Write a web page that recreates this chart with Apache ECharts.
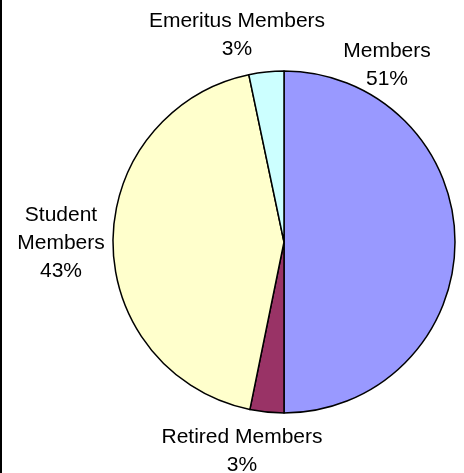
<!DOCTYPE html>
<html>
<head>
<meta charset="utf-8">
<script src="https://cdn.jsdelivr.net/npm/echarts@6/dist/echarts.min.js"></script>
<style>
html,body{margin:0;padding:0;background:#fff;}
#c{width:464px;height:473px;}
</style>
</head>
<body>
<div id="c"></div>
<script>
var categories = ['Members', 'Retired Members', 'Student Members', 'Emeritus Members'];
var labelNames = ['Members', 'Retired Members', 'Student\nMembers', 'Emeritus Members'];
var values = [50.0, 3.2, 43.5, 3.3];
var percentLabels = ['51%', '3%', '43%', '3%'];
var colors = ['#9999FF', '#993366', '#FFFFCC', '#CCFFFF'];

var labelPos = [[387, 65], [242, 451], [61, 243], [237, 35]];

var chart = echarts.init(document.getElementById('c'));
chart.setOption({
  animation: false,
  backgroundColor: '#ffffff',
  graphic: [{
    type: 'rect',
    shape: {x: 0, y: 0, width: 2, height: 473},
    style: {fill: '#000'}
  }],
  series: [{
    type: 'pie',
    center: [284, 242],
    radius: 171,
    startAngle: 90,
    clockwise: true,
    data: categories.map(function (c, i) {
      return {name: c, value: values[i], itemStyle: {color: colors[i]}};
    }),
    itemStyle: {borderColor: '#000', borderWidth: 1.5},
    label: {
      show: true,
      position: 'outside',
      alignTo: 'none',
      overflow: 'none',
      width: 300,
      formatter: function (p) { return labelNames[p.dataIndex] + '\n' + percentLabels[p.dataIndex]; },
      fontFamily: 'Liberation Sans, Arial, sans-serif',
      fontSize: 21,
      lineHeight: 28,
      color: '#000',
      align: 'center'
    },
    labelLine: {show: false},
    labelLayout: function (p) {
      var pos = labelPos[p.dataIndex];
      return {x: pos[0], y: pos[1], align: 'center', verticalAlign: 'middle', hideOverlap: false, moveOverlap: false};
    },
    emphasis: {disabled: true}
  }]
});
</script>
</body>
</html>
